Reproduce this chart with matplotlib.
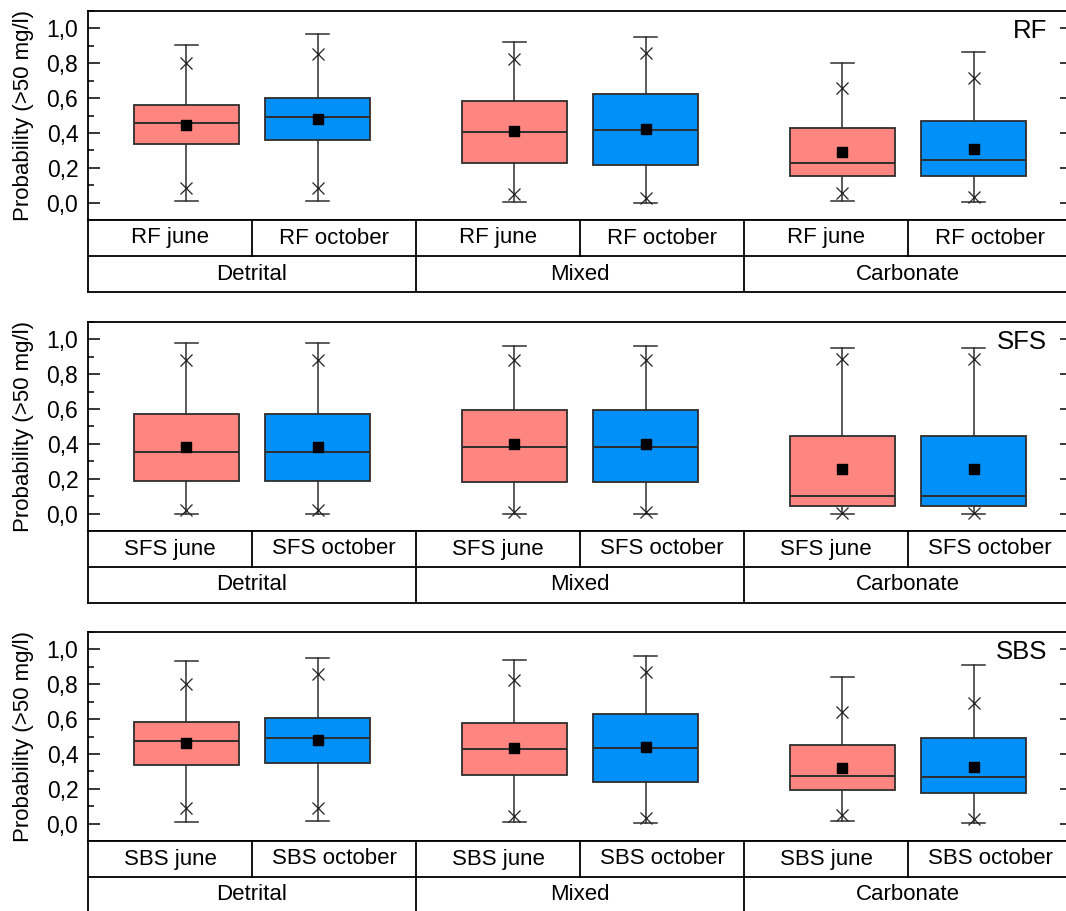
import matplotlib
matplotlib.use('Agg')
from matplotlib import pyplot as plt
from matplotlib.ticker import MultipleLocator, FuncFormatter
import numpy as np

plt.rcParams['font.family'] = ['Liberation Sans', 'DejaVu Sans']

# panels, groups and sampling months
panels = ['RF', 'SFS', 'SBS']
groups = ['Detrital', 'Mixed', 'Carbonate']
months = ['june', 'october']

# box statistics, one row per panel, columns: Detrital june/oct, Mixed june/oct, Carbonate june/oct
whis_hi = [[0.905, 0.966, 0.924, 0.950, 0.800, 0.865],
           [0.977, 0.977, 0.960, 0.960, 0.951, 0.951],
           [0.931, 0.952, 0.941, 0.962, 0.842, 0.908]]
p99 = [[0.800, 0.855, 0.825, 0.859, 0.657, 0.716],
       [0.880, 0.880, 0.884, 0.884, 0.886, 0.886],
       [0.800, 0.861, 0.825, 0.870, 0.640, 0.692]]
q3 = [[0.562, 0.600, 0.581, 0.623, 0.430, 0.470],
      [0.571, 0.571, 0.596, 0.596, 0.446, 0.446],
      [0.581, 0.606, 0.579, 0.629, 0.454, 0.494]]
median = [[0.457, 0.490, 0.406, 0.419, 0.229, 0.244],
          [0.355, 0.355, 0.381, 0.381, 0.100, 0.100],
          [0.474, 0.493, 0.430, 0.434, 0.271, 0.265]]
mean = [[0.448, 0.480, 0.413, 0.425, 0.290, 0.309],
        [0.383, 0.383, 0.400, 0.400, 0.256, 0.256],
        [0.463, 0.482, 0.434, 0.438, 0.317, 0.323]]
q1 = [[0.339, 0.360, 0.230, 0.215, 0.152, 0.154],
      [0.186, 0.186, 0.184, 0.184, 0.042, 0.042],
      [0.339, 0.350, 0.280, 0.240, 0.192, 0.175]]
p01 = [[0.086, 0.082, 0.050, 0.029, 0.053, 0.032],
       [0.023, 0.023, 0.008, 0.008, 0.006, 0.006],
       [0.090, 0.090, 0.044, 0.030, 0.052, 0.027]]
whis_lo = [[0.008, 0.011, 0.006, 0.000, 0.008, 0.002],
           [0.000, 0.000, 0.000, 0.000, 0.000, 0.000],
           [0.011, 0.013, 0.011, 0.002, 0.013, 0.004]]

colors = ['#FF8680', '#0090F8']
positions = [1, 2, 3.5, 4.5, 6, 7]
edge = '#2e2e2e'

W, H = 1066, 911
fig = plt.figure(figsize=(W / 100, H / 100), dpi=100)

left = 88 / W
width = 984 / W
plot_h = 209 / H
table_h = 72 / H
tops = [11, 322, 632]

comma = FuncFormatter(lambda v, p: ('%.1f' % v).replace('.', ','))

for i, name in enumerate(panels):
    top = tops[i]
    ax = fig.add_axes([left, (H - top - 209) / H, width, plot_h])
    tb = fig.add_axes([left, (H - top - 209 - 72) / H, width, table_h])

    stats = []
    for j in range(6):
        stats.append(dict(med=median[i][j], q1=q1[i][j], q3=q3[i][j],
                          whislo=whis_lo[i][j], whishi=whis_hi[i][j],
                          mean=mean[i][j], fliers=[p01[i][j], p99[i][j]]))
    bp = ax.bxp(stats, positions=positions, widths=0.8, capwidths=0.17,
                patch_artist=True, showmeans=True,
                boxprops=dict(edgecolor=edge, linewidth=1.3),
                medianprops=dict(color=edge, linewidth=1.4),
                whiskerprops=dict(color=edge, linewidth=1.1),
                capprops=dict(color=edge, linewidth=1.1),
                meanprops=dict(marker='s', markerfacecolor='k', markeredgecolor='k',
                               markersize=6.8),
                flierprops=dict(marker='x', markeredgecolor='#222222',
                                markersize=9, markeredgewidth=0.9))
    for j, box in enumerate(bp['boxes']):
        box.set_facecolor(colors[j % 2])

    ax.set_xlim(0.25, 7.75)
    ax.set_ylim(-0.1, 1.1)
    ax.set_xticks([])
    ax.yaxis.set_major_locator(MultipleLocator(0.2))
    ax.yaxis.set_minor_locator(MultipleLocator(0.1))
    ax.set_yticks(np.arange(0, 1.01, 0.2))
    ax.yaxis.set_major_formatter(comma)
    ax.tick_params(axis='y', which='both', direction='in', right=True,
                   labelsize=16.5, pad=7)
    ax.tick_params(axis='y', which='major', length=8.6, width=1.1)
    ax.tick_params(axis='y', which='minor', length=4.3, width=1.1)
    for s in ax.spines.values():
        s.set_linewidth(1.3)

    ax.text(0.9746, 0.904, name, transform=ax.transAxes, ha='right', va='center',
            fontsize=18.5)
    fig.text(24 / W, (H - top - 104.5) / H, 'Probability (>50 mg/l)', rotation=90,
             ha='center', va='center', fontsize=16)

    # category table under the boxes
    tb.set_xlim(0.25, 7.75)
    tb.set_ylim(0, 2)
    tb.set_xticks([])
    tb.set_yticks([])
    for s in tb.spines.values():
        s.set_linewidth(1.3)
    tb.axhline(1, color='k', lw=1.3)
    col_w = 7.5 / 6
    for k in range(1, 6):
        x = 0.25 + k * col_w
        if k % 2 == 0:
            tb.plot([x, x], [0, 2], color='k', lw=1.3)
        else:
            tb.plot([x, x], [1, 2], color='k', lw=1.3)
    for k in range(6):
        tb.text(0.25 + (k + 0.5) * col_w, 1.5, '%s %s' % (name, months[k % 2]),
                ha='center', va='center', fontsize=16)
    for g, gname in enumerate(groups):
        tb.text(0.25 + (2 * g + 1) * col_w, 0.5, gname, ha='center', va='center',
                fontsize=16)

plt.savefig('out.png', dpi=100)
